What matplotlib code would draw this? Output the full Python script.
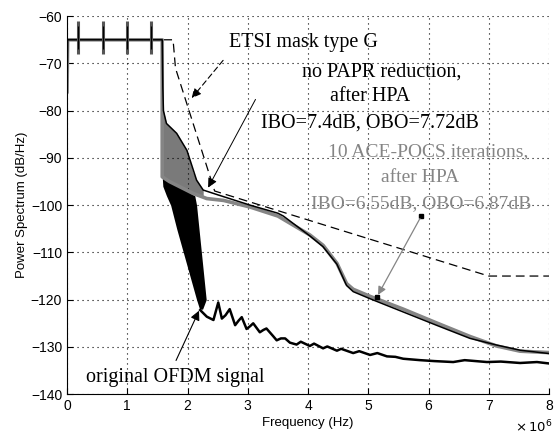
import numpy as np
import matplotlib
matplotlib.use('Agg')
import matplotlib.pyplot as plt

# frequencies in MHz (axis shows x10^6 Hz)
mask_f = [0, 1.76, 1.80, 2.45, 7.0, 8.0]
mask_db = [-65, -65, -71, -97, -115, -115]

# no PAPR reduction, after HPA (IBO=7.4dB)
hpa_f = [0, 0.01, 1.58, 1.59, 1.60, 1.65, 1.82, 1.99, 2.15, 2.26, 2.5, 3.04, 3.5, 3.59,
         4.03, 4.25, 4.48, 4.64, 4.75, 5.03, 5.58, 6.13, 6.69, 7.13, 7.52, 8.0]
hpa_db = [-76, -65, -65, -75, -80, -82.7, -84.8, -88.4, -94.7, -96.8, -97.8, -100, -101.7, -102.3,
          -106.5, -108.8, -112.5, -117, -118.3, -119.8, -122.6, -125.4, -128.2, -129.6, -130.7, -131.4]

# 10 ACE-POCS iterations, after HPA (IBO=6.55dB)
ace_f = [0, 0.01, 1.58, 1.58, 1.7, 2.09, 2.32, 2.6, 3.04, 3.5, 4.03, 4.25, 4.48, 4.64,
         4.75, 5.03, 5.58, 6.13, 6.69, 7.13, 7.52, 8.0]
ace_db = [-76, -65, -65, -94, -95, -97.5, -98.6, -99, -100.4, -102.3, -106.3, -108.5, -112.3, -116.6,
          -117.8, -119.3, -122, -124.9, -127.8, -129.8, -130.9, -131.2]

# dense transition region (rapid oscillation) of the HPA spectra
band_f = [1.58, 1.60, 1.65, 1.82, 1.99, 2.09, 2.15, 2.26]
band_hi = [-75, -80, -82.7, -84.8, -88.4, -93, -94.7, -96.8]
band_lo = [-94, -94.5, -95, -96, -97, -97.5, -98, -98.3]

# original OFDM signal: dense transition band, then ripples
ofdm_band_y = [-94, -96, -98, -100, -105, -110, -115, -120, -122]
ofdm_band_xl = [1.58, 1.59, 1.65, 1.72, 1.82, 1.93, 2.04, 2.15, 2.20]
ofdm_band_xr = [1.60, 1.85, 2.12, 2.15, 2.19, 2.23, 2.27, 2.31, 2.25]

ofdm_f = [2.21, 2.32, 2.43, 2.51, 2.57, 2.63, 2.70, 2.79, 2.85, 2.90, 2.98, 3.04, 3.09, 3.20,
          3.26, 3.31, 3.42, 3.48, 3.55, 3.62, 3.70, 3.81, 3.88, 4.03, 4.10, 4.25, 4.32, 4.48,
          4.55, 4.75, 4.85, 5.03, 5.15, 5.31, 5.45, 5.58, 5.86, 6.1, 6.41, 6.6, 6.97, 7.2,
          7.52, 7.8, 8.0]
ofdm_db = [-122.2, -123.6, -124.3, -120.6, -124.0, -123.3, -122.0, -125.4, -124.4, -123.7, -126.2,
           -125.6, -125.0, -126.9, -126.4, -126.1, -127.7, -128.6, -128.2, -128.2, -129.1, -129.5,
           -128.9, -129.8, -129.3, -130.3, -129.9, -130.8, -130.4, -131.3, -130.9, -131.7, -131.3,
           -132.0, -132.1, -132.5, -132.8, -133.0, -133.2, -132.8, -133.2, -133.1, -133.4, -133.2,
           -133.5]

# pilot tones in the band
pilot_f = [0.18, 0.59, 0.99, 1.39]
pilot_top = -61
pilot_bot = -68

x_ticks = [0, 1, 2, 3, 4, 5, 6, 7, 8]
y_ticks = [-140, -130, -120, -110, -100, -90, -80, -70, -60]

GRAY = '#858585'
serif = 'Liberation Serif'

fig = plt.figure(figsize=(5.54, 4.37), dpi=100)
ax = fig.add_axes([0.121, 0.098, 0.870, 0.865])

ax.plot(mask_f, mask_db, color='black', lw=0.9, dashes=(7, 4))
ax.fill_between(band_f, band_lo, band_hi, color='#7a7a7a', lw=0)
ax.fill_betweenx(ofdm_band_y, ofdm_band_xl, ofdm_band_xr, color='black', lw=0)
ax.plot(ace_f, ace_db, color=GRAY, lw=2.6)
ax.plot(hpa_f, hpa_db, color='black', lw=1.1)
ax.plot(ofdm_f, ofdm_db, color='black', lw=1.8)
ax.vlines(pilot_f, pilot_bot, pilot_top, color='#555555', lw=2.2)
ax.vlines(pilot_f, pilot_bot + 1, pilot_top - 1, color='black', lw=0.8)

ax.set_xlim(0, 8)
ax.set_ylim(-140, -60)
ax.set_xticks(x_ticks)
ax.set_yticks(y_ticks)
ax.tick_params(direction='in', length=4, labelsize=10, width=0.8)
for lab in ax.get_xticklabels() + ax.get_yticklabels():
    lab.set_family('Liberation Sans')
ax.grid(True, color='black', linestyle=(0, (1, 3.5)), lw=0.8)
ax.spines['top'].set_visible(False)
ax.spines['right'].set_visible(False)

ax.set_xlabel('Frequency (Hz)', fontsize=9.5, family='Liberation Sans', labelpad=3)
ax.set_ylabel('Power Spectrum (dB/Hz)', fontsize=9.5, family='Liberation Sans', labelpad=2)
fig.text(0.998, 0.004, r'$\times\,10^{6}$', fontsize=9.5, ha='right', va='bottom')

bsize = 14.5
gsize = 14
ax.text(3.93, -65.5, 'ETSI mask type G', family=serif, fontsize=bsize, ha='center', va='center')
ax.text(5.23, -71.9, 'no PAPR reduction,', family=serif, fontsize=bsize, ha='center', va='center')
ax.text(5.03, -77.1, 'after HPA', family=serif, fontsize=bsize, ha='center', va='center')
ax.text(5.03, -82.6, 'IBO=7.4dB, OBO=7.72dB', family=serif, fontsize=bsize, ha='center', va='center')
ax.text(5.99, -88.6, '10 ACE-POCS iterations,', family=serif, fontsize=gsize, ha='center',
        va='center', color=GRAY)
ax.text(5.86, -94.1, 'after HPA', family=serif, fontsize=gsize, ha='center', va='center', color=GRAY)
ax.text(5.88, -99.6, 'IBO=6.55dB, OBO=6.87dB', family=serif, fontsize=gsize, ha='center',
        va='center', color=GRAY)
ax.text(1.79, -136.4, 'original OFDM signal', family=serif, fontsize=bsize, ha='center', va='center')

ax.annotate('', xy=(2.04, -77.8), xytext=(2.62, -68.9),
            arrowprops=dict(arrowstyle='-|>', color='black', lw=0.8, linestyle=(0, (5, 3)),
                            mutation_scale=14))
ax.annotate('', xy=(2.32, -96.8), xytext=(3.15, -77.1),
            arrowprops=dict(arrowstyle='-|>', color='black', lw=0.7, mutation_scale=14))
ax.annotate('', xy=(5.14, -119.5), xytext=(5.88, -102.3),
            arrowprops=dict(arrowstyle='-|>', color=GRAY, lw=0.9, mutation_scale=12))
ax.plot([5.88, 5.14], [-102.3, -119.5], 's', color='black', ms=3.5)
ax.annotate('', xy=(2.21, -121.8), xytext=(1.79, -133.4),
            arrowprops=dict(arrowstyle='-|>', color='black', lw=0.8, mutation_scale=14))

fig.savefig('out.png', dpi=100)
